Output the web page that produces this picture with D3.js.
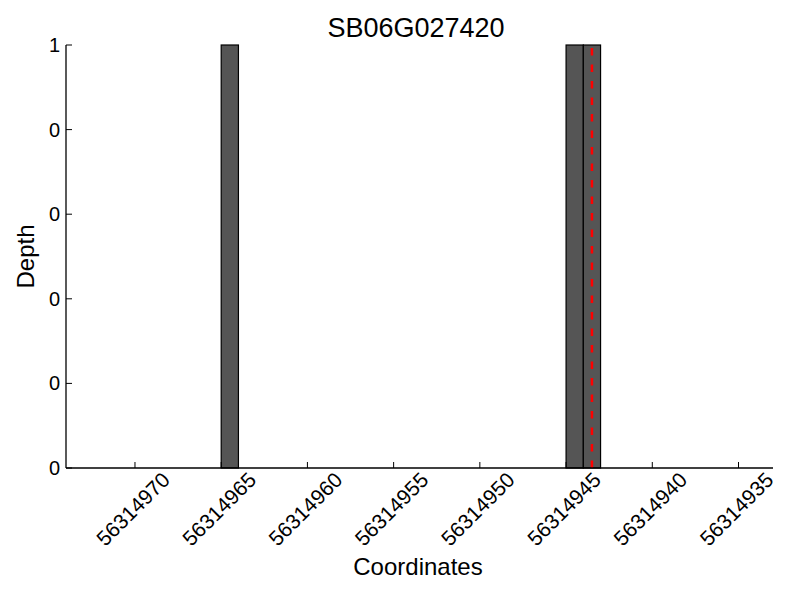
<!DOCTYPE html>
<meta charset="utf-8">
<style>
body { margin: 0; background: #fff; }
text { font-family: "Liberation Sans", Arial, sans-serif; fill: #000; }
.bar { fill: #555555; stroke: #000; stroke-width: 1.2px; }
.spine { stroke: #000; stroke-width: 1.3px; }
</style>
<svg width="800" height="600"></svg>
<script src="https://d3js.org/d3.v7.min.js"></script>
<script>

// data
var title = "SB06G027420";
var barStart = [56314964, 56314944, 56314943];   // each bar covers [start, start+1]
var barDepth = [1, 1, 1];
var markerPos = 56314943.5;                        // red dashed line
var xTicks = [56314970, 56314965, 56314960, 56314955, 56314950, 56314945, 56314940, 56314935];
var yTicks = [0, 0.2, 0.4, 0.6, 0.8, 1];

var svg = d3.select("svg");
var plotL = 66, plotR = 773, plotT = 45, plotB = 468;

// coordinates run right to left
var x = d3.scaleLinear().domain([56314974, 56314933]).range([plotL, plotR]);
var y = d3.scaleLinear().domain([0, 1]).range([plotB, plotT]);

var bars = barStart.map(function(s, i) { return {start: s, depth: barDepth[i]}; });

svg.append("g").selectAll("rect")
    .data(bars)
    .enter().append("rect")
      .attr("class", "bar")
      .attr("x", function(d) { return x(d.start + 1); })
      .attr("width", function(d) { return x(d.start) - x(d.start + 1); })
      .attr("y", function(d) { return y(d.depth); })
      .attr("height", function(d) { return y(0) - y(d.depth); });

svg.append("line")
    .attr("x1", x(markerPos)).attr("x2", x(markerPos))
    .attr("y1", y(0)).attr("y2", y(1))
    .attr("stroke", "#ff0000")
    .attr("stroke-width", 2.5)
    .attr("stroke-dasharray", "7.5,9");

// spines
svg.append("line").attr("class", "spine")
    .attr("x1", plotL).attr("x2", plotL).attr("y1", plotT).attr("y2", plotB);
svg.append("line").attr("class", "spine")
    .attr("x1", plotL).attr("x2", plotR).attr("y1", plotB).attr("y2", plotB);

// y ticks (inward), labels truncated like %d
var yt = svg.append("g").selectAll("g").data(yTicks).enter().append("g");
yt.append("line")
    .attr("x1", plotL).attr("x2", plotL + 6)
    .attr("y1", function(d) { return y(d); }).attr("y2", function(d) { return y(d); })
    .attr("stroke", "#000").attr("stroke-width", 1);
yt.append("text")
    .attr("x", plotL - 6)
    .attr("y", function(d) { return y(d); })
    .attr("dy", "0.35em")
    .attr("text-anchor", "end")
    .style("font-size", "20px")
    .text(function(d) { return String(Math.floor(d + 1e-9)); });

// x ticks (inward), rotated labels
var xt = svg.append("g").selectAll("g").data(xTicks).enter().append("g");
xt.append("line")
    .attr("x1", function(d) { return x(d); }).attr("x2", function(d) { return x(d); })
    .attr("y1", plotB).attr("y2", plotB - 6)
    .attr("stroke", "#000").attr("stroke-width", 1);
xt.append("text")
    .attr("transform", function(d) { return "translate(" + (x(d) - 2) + "," + 509 + ") rotate(-45)"; })
    .attr("text-anchor", "middle")
    .attr("dy", "0.35em")
    .style("font-size", "21px")
    .text(function(d) { return d3.format("d")(d); });

// titles
svg.append("text")
    .attr("x", 416).attr("y", 37)
    .attr("text-anchor", "middle")
    .style("font-size", "27px")
    .text(title);

svg.append("text")
    .attr("x", 418).attr("y", 575)
    .attr("text-anchor", "middle")
    .style("font-size", "24px")
    .text("Coordinates");

svg.append("text")
    .attr("transform", "translate(34," + (plotT + plotB) / 2 + ") rotate(-90)")
    .attr("text-anchor", "middle")
    .style("font-size", "24px")
    .text("Depth");

</script>
